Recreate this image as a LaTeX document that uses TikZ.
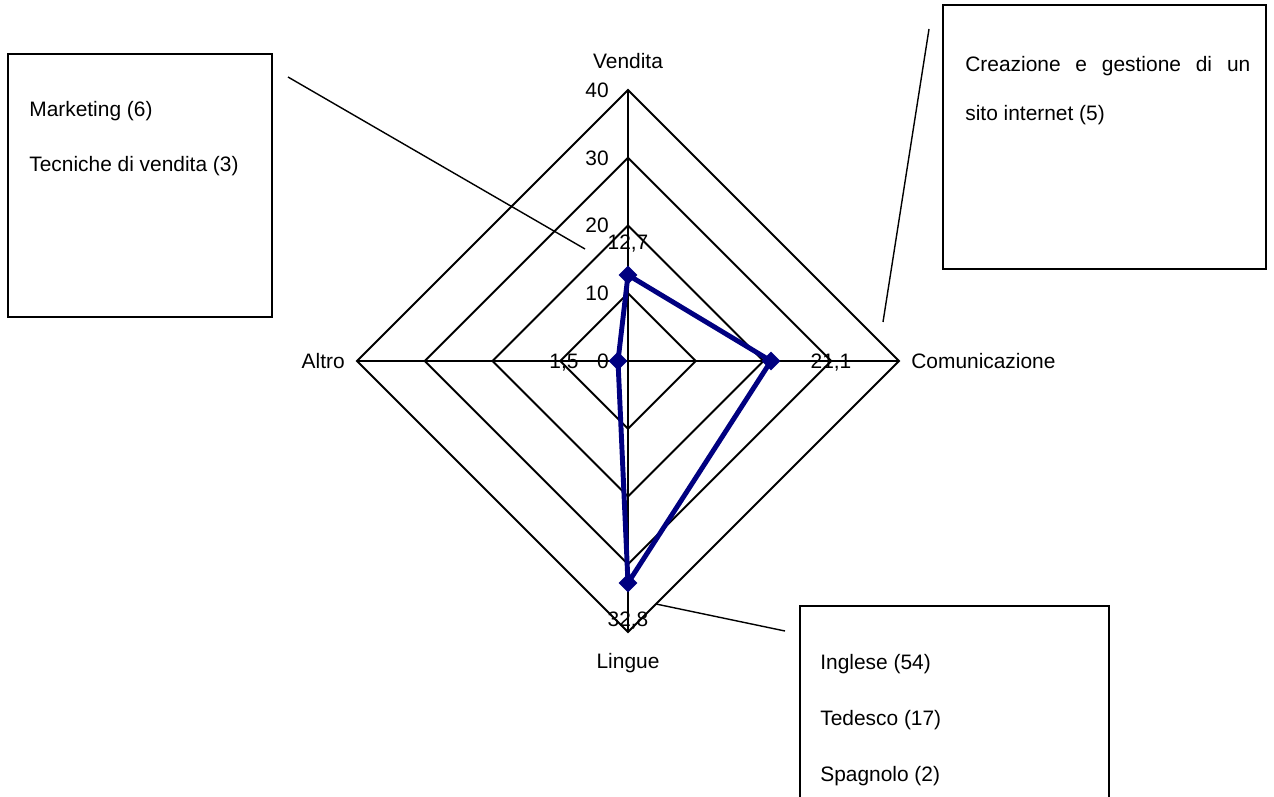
\documentclass[tikz,border=0pt]{standalone}
\usepackage{fontspec}
\setmainfont{Liberation Sans}
\usepackage{tikz}
\usetikzlibrary{shapes.geometric,fit,positioning}
\definecolor{serie}{RGB}{0,0,128}
\tikzset{ringline/.style={line width=1.1pt},
  serieline/.style={serie,line width=2.8pt,line join=round},
  datamark/.style={diamond,fill=serie,inner sep=0pt,minimum size=0.38cm},
  lbl/.style={inner sep=0pt,font=\fontsize{11.9}{14}\selectfont},
  calloutbox/.style={draw,line width=1.1pt,inner sep=0pt},
  callout/.style={line width=0.8pt}}

\begin{document}
\begin{tikzpicture}[x=0.02cm,y=-0.02cm]
  \clip (0,0) rectangle (1274,797);
  % radar grid
  \begin{scope}[shift={(628,361)}]
    \foreach \v in {10,20,30,40}
      \draw[ringline] (0,-\v*6.775) -- (\v*6.775,0) -- (0,\v*6.775) -- (-\v*6.775,0) -- cycle;
    \draw[ringline] (0,-271) -- (0,271) (-271,0) -- (271,0);
  \end{scope}
  \foreach \v in {0,10,20,30,40}
    \node[lbl,anchor=base east] (tick\v) at (609,{368.5-\v*6.775}) {\v};

  \node[lbl,anchor=base] (vendita) at (628,69) {Vendita};
  \node[lbl,anchor=base west] (comunicazione) at (911,368) {Comunicazione};
  \node[lbl,anchor=base] (lingue) at (628,668) {Lingue};
  \node[lbl,anchor=base east] (altro) at (345,368) {Altro};

  % data
  \node[datamark] (pvend) at (628,275) {};
  \node[datamark] (pcomu) at (771,361) {};
  \node[datamark] (pling) at (628,583) {};
  \node[datamark] (paltro) at (618,361) {};
  \draw[serieline] (pvend.center) -- (pcomu.center) -- (pling.center) -- (paltro.center) -- cycle;
  \node[lbl,anchor=base] (vvend) at (628,249.5) {12,7};
  \node[lbl,anchor=base] (vcomu) at (831,368.5) {21,1};
  \node[lbl,anchor=base] (vling) at (628,626) {32,8};
  \node[lbl,anchor=base] (valtro) at (564,368.5) {1,5};

  % callouts
  \node[calloutbox,fit={(8,54) (272,317)}] (boxmkt) {};
  \node[lbl,anchor=base west] (mkt1) at (29,117) {Marketing (6)};
  \node[lbl,anchor=base west] (mkt2) at (29,172) {Tecniche di vendita (3)};
  \coordinate (mktfrom) at (288,77);
  \coordinate (mktto) at (585,249);
  \draw[callout] (mktfrom) -- (mktto);

  \node[calloutbox,fit={(943,5) (1266,269)}] (boxweb) {};
  \node[lbl,anchor=base west] (web1) at (965,72) {\makebox[5.7cm][s]{Creazione e gestione di un}};
  \node[lbl,anchor=base west] (web2) at (965,121) {sito internet (5)};
  \coordinate (webfrom) at (929,29);
  \coordinate (webto) at (883,322);
  \draw[callout] (webfrom) -- (webto);

  \node[calloutbox,fit={(800,606) (1109,815)}] (boxling) {};
  \node[lbl,anchor=base west] (ling1) at (820,669) {Inglese (54)};
  \node[lbl,anchor=base west] (ling2) at (820,725) {Tedesco (17)};
  \node[lbl,anchor=base west] (ling3) at (820,781) {Spagnolo (2)};
  \coordinate (lingfrom) at (785,631);
  \coordinate (lingto) at (656,604);
  \draw[callout] (lingfrom) -- (lingto);
\end{tikzpicture}
\end{document}
